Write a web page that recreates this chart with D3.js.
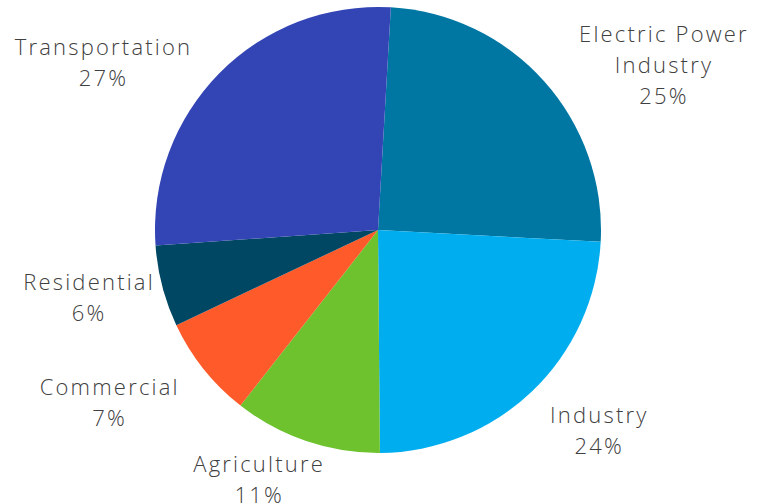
<!DOCTYPE html>
<html>
<head>
<meta charset="utf-8">
<script src="https://cdn.jsdelivr.net/npm/d3@7"></script>
<style>
  body { margin: 0; background: #fff; }
  svg text { font-family: "Open Sans", sans-serif; font-weight: 300; fill: #404040; letter-spacing: 2.2px; }
</style>
</head>
<body>
<div id="pie_chart"></div>
<script>
// Sector shares (percent), clockwise from the top
var sectors = ["Electric Power Industry", "Industry", "Agriculture", "Commercial", "Residential", "Transportation"];
var shares = [24.9, 24.0, 10.7, 7.4, 5.9, 27.0];
var shareLabels = ["25%", "24%", "11%", "7%", "6%", "27%"];
var sectorLines = [["Electric Power", "Industry"], ["Industry"], ["Agriculture"], ["Commercial"], ["Residential"], ["Transportation"]];
var colours = ["#0077a3", "#00aeef", "#6dc22e", "#ff5a2a", "#004763", "#3344b5"];

var width = 758, height = 504;
var cx = 378, cy = 230, radius = 223;
var labelRadius = 310;
// small nudges so labels sit where the original's "best fit" put them
var nudges = [[55, 42], [7, -23], [-19, -44], [-26, -21], [11, -10], [-54, 51]];

var svg = d3.select("#pie_chart")
    .append("svg")
    .attr("width", width)
    .attr("height", height);

var g = svg.append("g")
    .attr("transform", "translate(" + cx + "," + cy + ")");

var startAngle = 3.3 * Math.PI / 180;

var pie = d3.pie()
    .sort(null)
    .startAngle(startAngle)
    .endAngle(startAngle + 2 * Math.PI)
    .value(function (d) { return d; });

var arcs = pie(shares);

var arc = d3.arc().innerRadius(0).outerRadius(radius);
var labelArc = d3.arc().innerRadius(labelRadius).outerRadius(labelRadius);

g.selectAll("path.slice")
    .data(arcs)
    .enter()
    .append("path")
    .attr("class", "slice")
    .attr("d", arc)
    .attr("fill", function (d, i) { return colours[i]; });

var lineHeight = 31;
var fontSize = 22;

var labels = g.selectAll("text.label")
    .data(arcs)
    .enter()
    .append("text")
    .attr("class", "label")
    .attr("text-anchor", "middle")
    .style("font-size", fontSize + "px")
    .attr("transform", function (d, i) {
        var c = labelArc.centroid(d);
        return "translate(" + (c[0] + nudges[i][0]) + "," + (c[1] + nudges[i][1]) + ")";
    });

labels.each(function (d, i) {
    var lines = sectorLines[i].concat([shareLabels[i]]);
    var top = -(lines.length - 1) * lineHeight / 2;
    var t = d3.select(this);
    lines.forEach(function (l, k) {
        t.append("tspan")
            .attr("x", 0)
            .attr("y", top + k * lineHeight)
            .attr("dy", "0.35em")
            .text(l);
    });
});
</script>
</body>
</html>
